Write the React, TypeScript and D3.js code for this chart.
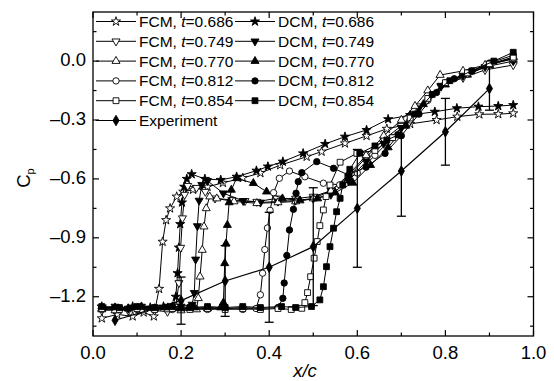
import React from 'react';
import * as d3 from 'd3';

const width = 554;
const height = 381;
const margin = { top: 12, right: 20.5, bottom: 45, left: 93 };

// FCM / DCM pressure coefficient
const fcm686X = [0.02, 0.055, 0.09, 0.115, 0.138, 0.15, 0.158, 0.166, 0.175, 0.19, 0.205, 0.227, 0.26, 0.295, 0.34, 0.38, 0.425, 0.485, 0.519, 0.572, 0.621, 0.667, 0.72, 0.78, 0.827, 0.877, 0.92, 0.954];
const fcm686Y = [-1.31, -1.29, -1.30, -1.28, -1.30, -1.16, -0.92, -0.81, -0.75, -0.69, -0.665, -0.655, -0.64, -0.62, -0.595, -0.57, -0.53, -0.487, -0.461, -0.419, -0.381, -0.345, -0.32, -0.30, -0.283, -0.271, -0.27, -0.266];

const dcm686X = [0.02, 0.05, 0.09, 0.13, 0.16, 0.18, 0.188, 0.192, 0.195, 0.198, 0.202, 0.207, 0.213, 0.224, 0.254, 0.29, 0.326, 0.371, 0.397, 0.431, 0.477, 0.527, 0.572, 0.621, 0.67, 0.72, 0.776, 0.826, 0.875, 0.92, 0.954];
const dcm686Y = [-1.25, -1.26, -1.25, -1.255, -1.25, -1.25, -1.20, -1.08, -0.95, -0.83, -0.72, -0.64, -0.60, -0.576, -0.60, -0.605, -0.589, -0.558, -0.537, -0.512, -0.47, -0.422, -0.385, -0.351, -0.296, -0.275, -0.258, -0.24, -0.232, -0.229, -0.224];

const fcm749X = [0.02, 0.05, 0.08, 0.11, 0.14, 0.169, 0.188, 0.195, 0.199, 0.203, 0.208, 0.215, 0.235, 0.255, 0.277, 0.315, 0.345, 0.372, 0.417, 0.46, 0.5, 0.54, 0.58, 0.62, 0.66, 0.70, 0.74, 0.79, 0.84, 0.89, 0.954];
const fcm749Y = [-1.27, -1.265, -1.27, -1.26, -1.27, -1.276, -1.25, -1.13, -0.95, -0.80, -0.68, -0.635, -0.645, -0.665, -0.699, -0.707, -0.712, -0.716, -0.699, -0.70, -0.69, -0.66, -0.59, -0.49, -0.40, -0.33, -0.23, -0.13, -0.085, -0.045, -0.02];

const dcm749X = [0.02, 0.05, 0.08, 0.11, 0.14, 0.17, 0.2, 0.225, 0.23, 0.233, 0.237, 0.241, 0.247, 0.26, 0.296, 0.341, 0.38, 0.42, 0.46, 0.5, 0.54, 0.58, 0.62, 0.66, 0.70, 0.74, 0.79, 0.84, 0.89, 0.954];
const dcm749Y = [-1.255, -1.25, -1.26, -1.25, -1.255, -1.25, -1.25, -1.24, -1.18, -1.01, -0.84, -0.71, -0.63, -0.61, -0.673, -0.712, -0.72, -0.715, -0.71, -0.70, -0.68, -0.61, -0.51, -0.42, -0.34, -0.24, -0.125, -0.075, -0.03, 0.0];

const fcm770X = [0.02, 0.05, 0.08, 0.11, 0.14, 0.17, 0.2, 0.235, 0.239, 0.243, 0.248, 0.252, 0.257, 0.265, 0.281, 0.32, 0.372, 0.42, 0.46, 0.5, 0.54, 0.58, 0.62, 0.66, 0.70, 0.731, 0.76, 0.788, 0.84, 0.89, 0.954];
const fcm770Y = [-1.265, -1.27, -1.26, -1.27, -1.26, -1.265, -1.27, -1.265, -1.208, -1.098, -0.962, -0.843, -0.75, -0.69, -0.70, -0.715, -0.724, -0.72, -0.715, -0.70, -0.66, -0.58, -0.48, -0.38, -0.30, -0.229, -0.15, -0.071, -0.05, -0.02, 0.01];

const dcm770X = [0.02, 0.05, 0.08, 0.11, 0.14, 0.17, 0.2, 0.23, 0.26, 0.29, 0.296, 0.299, 0.302, 0.305, 0.309, 0.314, 0.326, 0.364, 0.394, 0.43, 0.47, 0.51, 0.55, 0.59, 0.63, 0.67, 0.71, 0.75, 0.80, 0.85, 0.90, 0.954];
const dcm770Y = [-1.26, -1.255, -1.26, -1.25, -1.26, -1.255, -1.26, -1.255, -1.26, -1.255, -1.23, -1.03, -0.93, -0.835, -0.72, -0.656, -0.597, -0.622, -0.665, -0.70, -0.71, -0.70, -0.67, -0.62, -0.53, -0.44, -0.33, -0.22, -0.12, -0.07, -0.02, 0.02];

const fcm812X = [0.02, 0.06, 0.10, 0.14, 0.18, 0.22, 0.26, 0.30, 0.34, 0.37, 0.38, 0.385, 0.39, 0.396, 0.402, 0.41, 0.423, 0.446, 0.481, 0.523, 0.56, 0.60, 0.64, 0.68, 0.72, 0.76, 0.80, 0.85, 0.90, 0.954];
const fcm812Y = [-1.265, -1.26, -1.265, -1.26, -1.265, -1.26, -1.265, -1.26, -1.265, -1.26, -1.19, -1.08, -0.96, -0.85, -0.76, -0.67, -0.597, -0.56, -0.589, -0.622, -0.63, -0.57, -0.48, -0.39, -0.30, -0.20, -0.11, -0.065, -0.02, 0.015];

const dcm812X = [0.02, 0.06, 0.10, 0.14, 0.18, 0.22, 0.26, 0.30, 0.34, 0.38, 0.42, 0.431, 0.434, 0.44, 0.446, 0.455, 0.461, 0.466, 0.474, 0.508, 0.546, 0.58, 0.62, 0.663, 0.70, 0.74, 0.78, 0.82, 0.86, 0.90, 0.954];
const dcm812Y = [-1.255, -1.26, -1.255, -1.26, -1.255, -1.26, -1.255, -1.26, -1.255, -1.26, -1.255, -1.208, -1.13, -0.99, -0.86, -0.755, -0.673, -0.614, -0.568, -0.512, -0.546, -0.58, -0.54, -0.47, -0.38, -0.27, -0.16, -0.09, -0.05, -0.01, 0.03];

const fcm854X = [0.02, 0.06, 0.10, 0.14, 0.18, 0.22, 0.26, 0.30, 0.34, 0.38, 0.42, 0.45, 0.474, 0.481, 0.487, 0.494, 0.502, 0.509, 0.515, 0.523, 0.529, 0.538, 0.561, 0.599, 0.64, 0.68, 0.72, 0.76, 0.80, 0.85, 0.90, 0.954];
const fcm854Y = [-1.26, -1.265, -1.26, -1.265, -1.26, -1.265, -1.26, -1.265, -1.26, -1.265, -1.26, -1.265, -1.259, -1.23, -1.179, -1.098, -1.004, -0.919, -0.838, -0.758, -0.69, -0.631, -0.515, -0.47, -0.455, -0.39, -0.29, -0.19, -0.11, -0.06, -0.015, 0.02];

const dcm854X = [0.02, 0.06, 0.10, 0.14, 0.18, 0.22, 0.26, 0.30, 0.34, 0.38, 0.428, 0.46, 0.496, 0.515, 0.523, 0.53, 0.538, 0.546, 0.553, 0.561, 0.567, 0.583, 0.606, 0.64, 0.667, 0.693, 0.73, 0.77, 0.81, 0.86, 0.91, 0.954];
const dcm854Y = [-1.25, -1.255, -1.25, -1.255, -1.25, -1.255, -1.25, -1.255, -1.25, -1.255, -1.25, -1.255, -1.25, -1.216, -1.149, -1.047, -0.945, -0.851, -0.767, -0.699, -0.631, -0.551, -0.469, -0.432, -0.402, -0.376, -0.27, -0.17, -0.10, -0.05, 0.0, 0.045];

// experiment with error bars
const expX = [0.05, 0.2, 0.3, 0.4, 0.5, 0.6, 0.7, 0.8, 0.9];
const expY = [-1.32, -1.22, -1.12, -1.05, -0.945, -0.75, -0.56, -0.36, -0.14];
const expErr = [0.0, 0.12, 0.18, 0.28, 0.3, 0.3, 0.23, 0.17, 0.11];

const xTicks = [0, 0.2, 0.4, 0.6, 0.8, 1.0];
const xMinor = [0.1, 0.3, 0.5, 0.7, 0.9];
const yTicks = [0, -0.3, -0.6, -0.9, -1.2];
const yMinor = [0.15, -0.15, -0.45, -0.75, -1.05, -1.35];

const series = [
  { name: 'FCM', t: '0.686', xs: fcm686X, ys: fcm686Y, shape: 'star', filled: false },
  { name: 'DCM', t: '0.686', xs: dcm686X, ys: dcm686Y, shape: 'star', filled: true },
  { name: 'FCM', t: '0.749', xs: fcm749X, ys: fcm749Y, shape: 'down', filled: false },
  { name: 'DCM', t: '0.749', xs: dcm749X, ys: dcm749Y, shape: 'down', filled: true },
  { name: 'FCM', t: '0.770', xs: fcm770X, ys: fcm770Y, shape: 'up', filled: false },
  { name: 'DCM', t: '0.770', xs: dcm770X, ys: dcm770Y, shape: 'up', filled: true },
  { name: 'FCM', t: '0.812', xs: fcm812X, ys: fcm812Y, shape: 'circle', filled: false },
  { name: 'DCM', t: '0.812', xs: dcm812X, ys: dcm812Y, shape: 'circle', filled: true },
  { name: 'FCM', t: '0.854', xs: fcm854X, ys: fcm854Y, shape: 'square', filled: false },
  { name: 'DCM', t: '0.854', xs: dcm854X, ys: dcm854Y, shape: 'square', filled: true },
];

const font = '"Liberation Sans", Arial, Helvetica, sans-serif';

const symbolPath = (shape: string) => {
  if (shape === 'star') return d3.symbol(d3.symbolStar, 26)();
  if (shape === 'circle') return d3.symbol(d3.symbolCircle, 32)();
  if (shape === 'square') return d3.symbol(d3.symbolSquare, 34)();
  if (shape === 'diamond') return d3.symbol(d3.symbolDiamond, 32)();
  return d3.symbol(d3.symbolTriangle, 28)();
};

function Marker({ x, y, shape, filled }: any) {
  const rot = shape === 'down' ? ' rotate(180)' : '';
  return (
    <path
      d={symbolPath(shape) || ''}
      transform={`translate(${x},${y})${rot}`}
      fill={filled ? '#000' : '#fff'}
      stroke="#000"
      strokeWidth={0.9}
    />
  );
}

export default function App() {
  const xScale = d3.scaleLinear().domain([0, 1]).range([margin.left, width - margin.right]);
  const yScale = d3.scaleLinear().domain([-1.4, 0.25]).range([height - margin.bottom, margin.top]);
  const line = d3.line<[number, number]>().x(d => xScale(d[0])).y(d => yScale(d[1]));

  const x0 = xScale(0), x1 = xScale(1);
  const yTop = yScale(0.25), yBot = yScale(-1.4);

  const legendRows = [21.5, 41.3, 61.1, 80.9, 100.7, 120.5];

  return (
    <svg width={width} height={height} style={{ position: 'absolute', left: 0, top: 0, background: '#fff' }} fontFamily={font}>
      {/* data lines and markers */}
      {series.map((s, i) => {
        const pts = s.xs.map((x, j) => [x, s.ys[j]] as [number, number]);
        return (
          <g key={i}>
            <path d={line(pts) || ''} fill="none" stroke="#000" strokeWidth={1} />
            {pts.map((p, j) => (
              <Marker key={j} x={xScale(p[0])} y={yScale(p[1])} shape={s.shape} filled={s.filled} />
            ))}
          </g>
        );
      })}

      {/* experiment */}
      <g>
        <path d={line(expX.map((x, j) => [x, expY[j]] as [number, number])) || ''} fill="none" stroke="#000" strokeWidth={1.2} />
        {expX.map((x, j) => expErr[j] > 0 && (
          <g key={j} stroke="#000" strokeWidth={1.3}>
            <line x1={xScale(x)} x2={xScale(x)} y1={yScale(expY[j] + expErr[j])} y2={yScale(expY[j] - expErr[j])} />
            <line x1={xScale(x) - 4.5} x2={xScale(x) + 4.5} y1={yScale(expY[j] + expErr[j])} y2={yScale(expY[j] + expErr[j])} />
            <line x1={xScale(x) - 4.5} x2={xScale(x) + 4.5} y1={yScale(expY[j] - expErr[j])} y2={yScale(expY[j] - expErr[j])} />
          </g>
        ))}
        {expX.map((x, j) => (
          <Marker key={'m' + j} x={xScale(x)} y={yScale(expY[j])} shape="diamond" filled />
        ))}
      </g>

      {/* frame */}
      <rect x={x0} y={yTop} width={x1 - x0} height={yBot - yTop} fill="none" stroke="#000" strokeWidth={1.3} />

      {/* x ticks */}
      {xTicks.map(t => (
        <g key={'xt' + t}>
          <line x1={xScale(t)} x2={xScale(t)} y1={yBot} y2={yBot - 6} stroke="#000" strokeWidth={1.2} />
          <line x1={xScale(t)} x2={xScale(t)} y1={yTop} y2={yTop + 6} stroke="#000" strokeWidth={1.2} />
          <text x={xScale(t)} y={359} textAnchor="middle" fontSize={18.5}>{t.toFixed(1)}</text>
        </g>
      ))}
      {xMinor.map(t => (
        <g key={'xm' + t}>
          <line x1={xScale(t)} x2={xScale(t)} y1={yBot} y2={yBot - 3.5} stroke="#000" strokeWidth={1.2} />
          <line x1={xScale(t)} x2={xScale(t)} y1={yTop} y2={yTop + 3.5} stroke="#000" strokeWidth={1.2} />
        </g>
      ))}

      {/* y ticks */}
      {yTicks.map(t => (
        <g key={'yt' + t}>
          <line x1={x0} x2={x0 + 6} y1={yScale(t)} y2={yScale(t)} stroke="#000" strokeWidth={1.2} />
          <line x1={x1} x2={x1 - 6} y1={yScale(t)} y2={yScale(t)} stroke="#000" strokeWidth={1.2} />
          <text x={86} y={yScale(t) + 5} textAnchor="end" fontSize={18.5}>{t === 0 ? '0.0' : '\u2013' + Math.abs(t).toFixed(1)}</text>
        </g>
      ))}
      {yMinor.map(t => (
        <g key={'ym' + t}>
          <line x1={x0} x2={x0 + 3.5} y1={yScale(t)} y2={yScale(t)} stroke="#000" strokeWidth={1.2} />
          <line x1={x1} x2={x1 - 3.5} y1={yScale(t)} y2={yScale(t)} stroke="#000" strokeWidth={1.2} />
        </g>
      ))}

      {/* axis titles */}
      <text x={305} y={377} textAnchor="middle" fontSize={18.5} fontStyle="italic">x/c</text>
      <text transform="translate(30,178) rotate(-90)" textAnchor="middle" fontSize={18.5}>
        C<tspan fontSize={11} dy={4}>p</tspan>
      </text>

      {/* legend */}
      {series.map((s, i) => {
        const col = i % 2;
        const row = Math.floor(i / 2);
        const lx = col === 0 ? 96 : 235;
        const y = legendRows[row];
        return (
          <g key={'lg' + i}>
            <line x1={lx} x2={lx + 40} y1={y} y2={y} stroke="#000" strokeWidth={1} />
            <Marker x={lx + 20} y={y} shape={s.shape} filled={s.filled} />
            <text x={lx + 43} y={y + 5.5} fontSize={15.5}>
              {s.name}, <tspan fontStyle="italic">t</tspan>={s.t}
            </text>
          </g>
        );
      })}
      <g>
        <line x1={96} x2={136} y1={legendRows[5]} y2={legendRows[5]} stroke="#000" strokeWidth={1} />
        <Marker x={116} y={legendRows[5]} shape="diamond" filled />
        <text x={139} y={legendRows[5] + 5.5} fontSize={15.5}>Experiment</text>
      </g>
    </svg>
  );
}
